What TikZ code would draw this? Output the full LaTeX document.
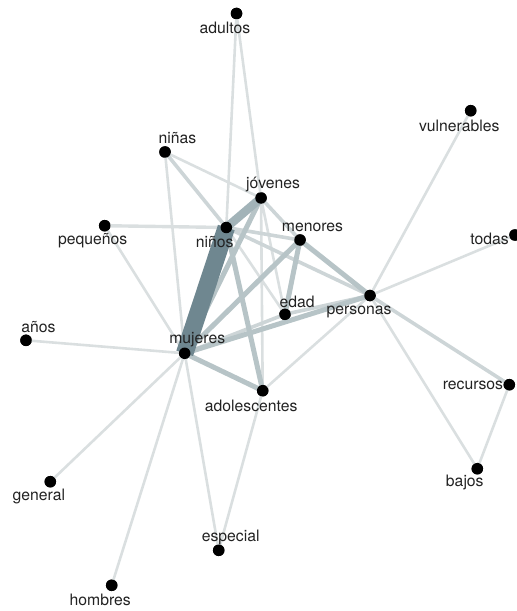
\documentclass[tikz,border=0pt]{standalone}
\usepackage{fontspec}
\setmainfont{TeX Gyre Heros}
\usetikzlibrary{calc}
\definecolor{elight}{HTML}{DADFE0}
\definecolor{elmed}{HTML}{CDD5D7}
\definecolor{emed}{HTML}{B7C4C7}
\definecolor{estrong}{HTML}{A2B3B8}
\definecolor{eheavy}{HTML}{6F8790}
\definecolor{txt}{HTML}{222222}
\tikzset{
  dot/.style={circle,fill=black,inner sep=0pt,minimum size=11.5bp},
  lbl/.style={inner sep=0pt,text=txt,font=\fontsize{15.8}{17}\selectfont},
  wlight/.style={draw=elight,line width=2.6bp},
  wlmed/.style={draw=elmed,line width=3.6bp},
  wmed/.style={draw=emed,line width=5bp},
  wstrong/.style={draw=estrong,line width=8.5bp},
  wheavy/.style={draw=eheavy,line width=17.5bp},
}
\begin{document}
\begin{tikzpicture}[x=1bp,y=-1bp]
\useasboundingbox (0,0) rectangle (517,611);
% nodes
\node[dot] (adultos) at (236.5,13.5) {};
\node[dot] (vulnerables) at (470.7,110.7) {};
\node[dot] (ninas) at (165,152) {};
\node[dot] (jovenes) at (261,198) {};
\node[dot] (pequenos) at (104.7,225.7) {};
\node[dot] (ninos) at (226.3,227.5) {};
\node[dot] (menores) at (300,240) {};
\node[dot] (todas) at (515,235) {};
\node[dot] (personas) at (370,295.5) {};
\node[dot] (edad) at (285,314.3) {};
\node[dot] (anos) at (26,340.3) {};
\node[dot] (mujeres) at (184.7,353.3) {};
\node[dot] (adolescentes) at (262.7,390.7) {};
\node[dot] (recursos) at (509.3,384.7) {};
\node[dot] (bajos) at (477.3,468.7) {};
\node[dot] (general) at (50.3,481.7) {};
\node[dot] (especial) at (218.7,550.3) {};
\node[dot] (hombres) at (111.7,585.3) {};
% edges
\path[wlight]
  (adultos.center) -- (ninos.center)
  (adultos.center) -- (jovenes.center)
  (ninas.center) -- (jovenes.center)
  (ninas.center) -- (mujeres.center)
  (pequenos.center) -- (mujeres.center)
  (mujeres.center) -- (anos.center)
  (mujeres.center) -- (general.center)
  (mujeres.center) -- (hombres.center)
  (mujeres.center) -- (especial.center)
  (adolescentes.center) -- (especial.center)
  (adolescentes.center) -- (personas.center)
  (personas.center) -- (vulnerables.center)
  (personas.center) -- (todas.center)
  (personas.center) -- (bajos.center)
  (recursos.center) -- (bajos.center)
  (jovenes.center) -- (adolescentes.center)
  (jovenes.center) -- (edad.center)
  (ninos.center) -- (edad.center);
\path[wlight,line width=3.4bp] (pequenos.center) -- (ninos.center);
\path[wlmed]
  (ninas.center) -- (ninos.center)
  (jovenes.center) -- (menores.center)
  (ninos.center) -- (menores.center)
  (ninos.center) -- (personas.center)
  (personas.center) -- (recursos.center)
  (mujeres.center) -- (edad.center)
  (edad.center) -- (personas.center);
\path[wmed]
  (jovenes.center) -- (mujeres.center)
  (ninos.center) -- (adolescentes.center)
  (mujeres.center) -- (adolescentes.center)
  (menores.center) -- (edad.center)
  (mujeres.center) -- (personas.center)
  (mujeres.center) -- (menores.center)
  (menores.center) -- (personas.center);
\path[wstrong] (jovenes.center) -- (ninos.center);
\path[wheavy] (ninos.center) -- (mujeres.center);
% dots on top of edges
\foreach \n in {adultos,vulnerables,ninas,jovenes,pequenos,ninos,menores,todas,personas,edad,anos,mujeres,adolescentes,recursos,bajos,general,especial,hombres}
  \fill (\n.center) circle (5.75bp);
% labels
\node[lbl] (l-adultos) at ($(adultos)+(-11.5,14)$) {adultos};
\node[lbl] (l-vulnerables) at ($(vulnerables)+(-11.5,15.5)$) {vulnerables};
\node[lbl] (l-ninas) at ($(ninas)+(12.5,-13.5)$) {niñas};
\node[lbl] (l-jovenes) at ($(jovenes)+(12,-13.5)$) {jóvenes};
\node[lbl] (l-pequenos) at ($(pequenos)+(-12,15)$) {pequeños};
\node[lbl] (l-ninos) at ($(ninos)+(-11.5,14.5)$) {niños};
\node[lbl] (l-menores) at ($(menores)+(12.5,-13)$) {menores};
\node[lbl,anchor=east] (l-todas) at ($(todas)+(-6,4)$) {todas};
\node[lbl] (l-personas) at ($(personas)+(-11,16)$) {personas};
\node[lbl] (l-edad) at ($(edad)+(12,-12.5)$) {edad};
\node[lbl] (l-anos) at ($(anos)+(12.5,-13)$) {años};
\node[lbl] (l-mujeres) at ($(mujeres)+(12.5,-14)$) {mujeres};
\node[lbl] (l-adolescentes) at ($(adolescentes)+(-11.5,15.3)$) {adolescentes};
\node[lbl,anchor=east] (l-recursos) at ($(recursos)+(-6,1)$) {recursos};
\node[lbl] (l-bajos) at ($(bajos)+(-12.5,14)$) {bajos};
\node[lbl] (l-general) at ($(general)+(-11.5,15)$) {general};
\node[lbl] (l-especial) at ($(especial)+(12,-13)$) {especial};
\node[lbl] (l-hombres) at ($(hombres)+(-11.5,14.7)$) {hombres};
\end{tikzpicture}
\end{document}
